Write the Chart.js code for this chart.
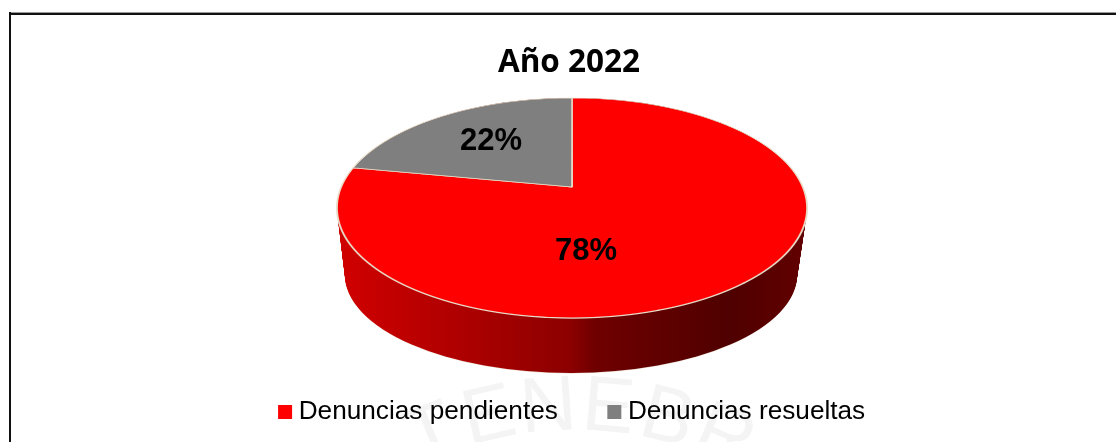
<!DOCTYPE html>
<html>
<head>
<meta charset="utf-8">
<title>Año 2022</title>
<script src="https://cdn.jsdelivr.net/npm/chart.js"></script>
<style>
    html, body { margin: 0; padding: 0; background: #fff; }
    canvas { display: block; }
</style>
</head>
<body>
<canvas id="pieChart" width="1116" height="442"></canvas>
<script>
const categories = ['Denuncias pendientes', 'Denuncias resueltas'];
const values = [78, 22];
const sliceColors = ['#ff0000', '#7f7f7f'];
const chartTitle = 'Año 2022';
const watermarkLetters = ['T', 'E', 'N', 'E', 'B', 'R'];

// where the top face of the pie lands on the page
// (perspective: the pie centre is not the middle of the ellipse)
const face = { cx: 572, apexY: 187, topY: 98, bottomY: 318, halfWidth: 230.7 };
const base = { cx: 571, cy: 275, rx: 226, ry: 98 };
const rim = { cx: 572, cy: 208, rx: 235, ry: 110 };
const labelSpots = [{ x: 586, y: 251 }, { x: 491, y: 141 }];

// homography constants from the three y positions above
const k = (2 * face.apexY - face.topY - face.bottomY) / (face.bottomY - face.topY);
const B = face.apexY - face.topY * (1 - k);

function drawWatermark(ctx) {
    ctx.save();
    ctx.fillStyle = '#f4f4f4';
    ctx.font = '78px "Liberation Sans"';
    ctx.textAlign = 'center';
    ctx.textBaseline = 'alphabetic';
    watermarkLetters.forEach((letter, i) => {
        const angle = (-22 + i * 9) * Math.PI / 180;
        ctx.save();
        ctx.translate(575, 790);
        ctx.rotate(angle);
        ctx.fillText(letter, 0, -360);
        ctx.restore();
    });
    ctx.restore();
}

function drawWall(ctx) {
    const grad = ctx.createLinearGradient(base.cx - base.rx, 0, base.cx + base.rx, 0);
    grad.addColorStop(0, '#cf0000');
    grad.addColorStop(0.3, '#a80000');
    grad.addColorStop(0.5, '#8c0000');
    grad.addColorStop(0.55, '#700000');
    grad.addColorStop(0.85, '#4f0000');
    grad.addColorStop(1, '#600000');
    ctx.save();
    ctx.strokeStyle = 'rgba(225, 205, 185, 0.8)';
    ctx.lineWidth = 1;
    ctx.beginPath();
    ctx.ellipse(base.cx, base.cy, base.rx, base.ry, 0, 0, Math.PI * 2);
    ctx.stroke();
    ctx.fillStyle = grad;
    const steps = 70;
    for (let i = 0; i <= steps; i++) {
        const t = i / steps;
        ctx.beginPath();
        ctx.ellipse(
            base.cx + (rim.cx - base.cx) * t,
            base.cy + (rim.cy - base.cy) * t,
            base.rx + (rim.rx - base.rx) * t,
            base.ry + (rim.ry - base.ry) * t,
            0, 0, Math.PI * 2
        );
        ctx.fill();
    }
    ctx.restore();
}

// one clipped row at a time, each with the local scale of the perspective
function drawFace(ctx, arcs, width) {
    const R = arcs[0].outerRadius;
    const ax = arcs[0].x;
    const ay = arcs[0].y;
    for (let y = face.topY - 2; y < face.bottomY + 2; y++) {
        const yMid = y + 0.5;
        const v = (yMid - face.apexY) / (B - k * yMid);
        const denom = 1 + k * v;
        const sx = face.halfWidth / (R * denom);
        const sy = (B - k * face.apexY) / (denom * denom * R);
        ctx.save();
        ctx.beginPath();
        ctx.rect(0, y, width, 1);
        ctx.clip();
        ctx.transform(sx, 0, 0, sy, face.cx - sx * ax, yMid - sy * (ay + R * v));
        arcs.forEach(arc => arc.draw(ctx));
        ctx.restore();
    }
}

const pie3d = {
    id: 'pie3d',
    afterLayout(chart) {
        // labels.padding is also the gap between the items, so put the legend back in place
        const legend = chart.legend;
        legend.top -= 7;
        legend.bottom -= 7;
        legend.left += 5.9;
        legend.right += 5.9;
    },
    beforeDraw(chart) {
        const ctx = chart.ctx;
        ctx.save();
        ctx.fillStyle = '#ffffff';
        ctx.fillRect(0, 0, chart.width, chart.height);
        drawWatermark(ctx);
        ctx.fillStyle = '#9a9a9a';
        ctx.fillRect(9, 12, chart.width - 9, 1);
        ctx.fillStyle = '#111111';
        ctx.fillRect(9, 13, chart.width - 9, 2);
        ctx.fillRect(9, 12, 2, chart.height - 12);
        ctx.restore();
    },
    beforeDatasetsDraw(chart) {
        const ctx = chart.ctx;
        const arcs = chart.getDatasetMeta(0).data;
        drawWall(ctx);
        drawFace(ctx, arcs, chart.width);
        ctx.save();
        ctx.fillStyle = '#000000';
        ctx.font = 'bold 31px "Liberation Sans"';
        ctx.textAlign = 'center';
        ctx.textBaseline = 'middle';
        values.forEach((val, i) => {
            ctx.fillText(val + '%', labelSpots[i].x, labelSpots[i].y);
        });
        ctx.restore();
        return false;
    }
};

new Chart(document.getElementById('pieChart'), {
    type: 'pie',
    data: {
        labels: categories,
        datasets: [{
            data: values,
            backgroundColor: sliceColors,
            borderColor: '#e8dcc8',
            borderWidth: 1
        }]
    },
    options: {
        responsive: false,
        animation: false,
        layout: { padding: { left: 22 } },
        plugins: {
            tooltip: { enabled: false },
            title: {
                display: true,
                text: chartTitle,
                color: '#000000',
                font: { family: '"Open Sans"', size: 31.5, weight: 'bold' },
                padding: { top: 44, bottom: 0 }
            },
            legend: {
                position: 'bottom',
                labels: {
                    color: '#000000',
                    font: { family: '"Liberation Sans"', size: 26.2 },
                    padding: 56,
                    boxWidth: 1,
                    boxHeight: 1,
                    // the gap after the box follows the font size, so the square is a fat stroke
                    generateLabels(chart) {
                        return categories.map((name, i) => ({
                            text: name,
                            fillStyle: sliceColors[i],
                            strokeStyle: sliceColors[i],
                            lineWidth: 13,
                            fontColor: '#000000',
                            index: i
                        }));
                    }
                }
            }
        }
    },
    plugins: [pie3d]
});
</script>
</body>
</html>
